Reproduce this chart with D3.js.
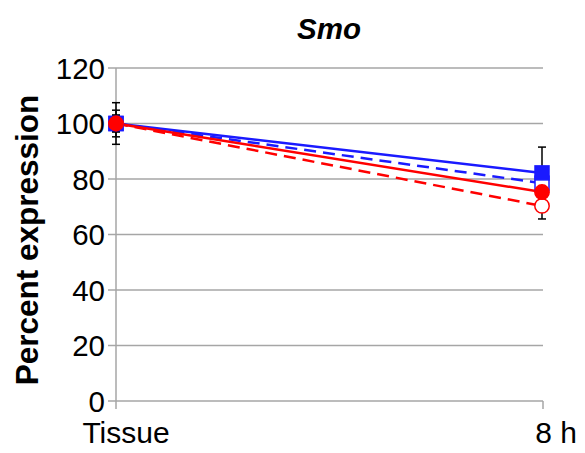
<!DOCTYPE html>
<html>
<head>
<meta charset="utf-8">
<script src="https://cdn.jsdelivr.net/npm/d3@7"></script>
<style>
  body { margin: 0; background: #fff; }
  svg { display: block; font-family: "Liberation Sans", Arial, sans-serif; }
</style>
</head>
<body>
<div id="chart"></div>
<script>
// Data
const categories = ['Tissue', '8 h']
const yTicks = [0, 20, 40, 60, 80, 100, 120]

const blueSolid = [100, 82.2]
const blueSolidErr = [7.5, 9.3]
const blueDashed = [100, 78.5]
const blueDashedErr = [3, 3]
const redSolid = [100, 75.3]
const redSolidErr = [3, 3]
const redDashed = [100, 70.3]
const redDashedErr = [4.8, 4.7]

const series = [
    { values: blueSolid, err: blueSolidErr, color: '#1a1aff', dash: null, shape: 'square', filled: true },
    { values: blueDashed, err: blueDashedErr, color: '#1a1aff', dash: '12,7', shape: 'square', filled: false },
    { values: redSolid, err: redSolidErr, color: '#ff0000', dash: null, shape: 'circle', filled: true },
    { values: redDashed, err: redDashedErr, color: '#ff0000', dash: '12,7', shape: 'circle', filled: false }
]

const width = 585, height = 453
const margin = { left: 116, right: 43, top: 68, bottom: 52 }

const svg = d3.select('#chart').append('svg')
    .attr('width', width)
    .attr('height', height)

const x = d3.scalePoint()
    .domain(categories)
    .range([margin.left, width - margin.right])

const y = d3.scaleLinear()
    .domain([0, 120])
    .range([height - margin.bottom, margin.top])

// gridlines
svg.append('g')
    .selectAll('line')
    .data(yTicks)
    .enter()
    .append('line')
    .attr('x1', margin.left - 8)
    .attr('x2', width - margin.right + 1)
    .attr('y1', d => y(d))
    .attr('y2', d => y(d))
    .attr('stroke', '#a6a6a6')
    .attr('stroke-width', 1.5)

// y axis line
svg.append('line')
    .attr('x1', margin.left).attr('x2', margin.left)
    .attr('y1', y(120)).attr('y2', y(0) + 8)
    .attr('stroke', '#a6a6a6')
    .attr('stroke-width', 1.5)

// x tick at the end
svg.append('line')
    .attr('x1', x('8 h') + 1).attr('x2', x('8 h') + 1)
    .attr('y1', y(0)).attr('y2', y(0) + 8)
    .attr('stroke', '#a6a6a6')
    .attr('stroke-width', 1.5)

// y tick labels
svg.append('g')
    .selectAll('text')
    .data(yTicks)
    .enter()
    .append('text')
    .attr('x', margin.left - 11)
    .attr('y', d => y(d))
    .attr('dy', '0.36em')
    .attr('text-anchor', 'end')
    .attr('font-size', 29.5)
    .attr('fill', '#000')
    .text(d => d)

// x labels
svg.append('g')
    .selectAll('text')
    .data(categories)
    .enter()
    .append('text')
    .attr('x', d => x(d))
    .attr('dx', (d, i) => i === 0 ? 10 : 14)
    .attr('y', y(0) + 42)
    .attr('text-anchor', 'middle')
    .attr('font-size', 30)
    .attr('fill', '#000')
    .text(d => d)

// title
svg.append('text')
    .attr('x', (margin.left + width - margin.right) / 2)
    .attr('y', 39)
    .attr('text-anchor', 'middle')
    .attr('font-size', 29.5)
    .attr('font-weight', 'bold')
    .attr('font-style', 'italic')
    .text('Smo')

// y axis title
svg.append('text')
    .attr('transform', 'translate(38,240) rotate(-90)')
    .attr('text-anchor', 'middle')
    .attr('font-size', 31.5)
    .attr('font-weight', 'bold')
    .text('Percent expression')

// error bars
series.forEach(s => {
    const g = svg.append('g')
    s.values.forEach((v, i) => {
        const cx = x(categories[i])
        const top = y(v + s.err[i])
        const bot = y(v - s.err[i])
        g.append('line')
            .attr('x1', cx).attr('x2', cx)
            .attr('y1', top).attr('y2', bot)
            .attr('stroke', '#000').attr('stroke-width', 1.5)
        ;[top, bot].forEach(yy => {
            g.append('line')
                .attr('x1', cx - 4).attr('x2', cx + 4)
                .attr('y1', yy).attr('y2', yy)
                .attr('stroke', '#000').attr('stroke-width', 1.5)
        })
    })
})

// lines
const line = d3.line()
    .x((d, i) => x(categories[i]))
    .y(d => y(d))

series.forEach(s => {
    svg.append('path')
        .datum(s.values)
        .attr('d', line)
        .attr('fill', 'none')
        .attr('stroke', s.color)
        .attr('stroke-width', 2.5)
        .attr('stroke-dasharray', s.dash)
})

// markers: open ones first, filled ones on top
const markerOrder = series.filter(s => !s.filled).concat(series.filter(s => s.filled))
markerOrder.forEach(s => {
    const g = svg.append('g')
    s.values.forEach((v, i) => {
        const cx = x(categories[i])
        const cy = y(v)
        if (s.shape === 'square') {
            g.append('rect')
                .attr('x', cx - 7).attr('y', cy - 7)
                .attr('width', 14).attr('height', 14)
                .attr('fill', s.filled ? s.color : '#fff')
                .attr('stroke', s.color)
                .attr('stroke-width', 1.5)
        } else {
            g.append('circle')
                .attr('cx', cx).attr('cy', cy)
                .attr('r', 7.2)
                .attr('fill', s.filled ? s.color : '#fff')
                .attr('stroke', s.color)
                .attr('stroke-width', 1.5)
        }
    })
})
</script>
</body>
</html>
